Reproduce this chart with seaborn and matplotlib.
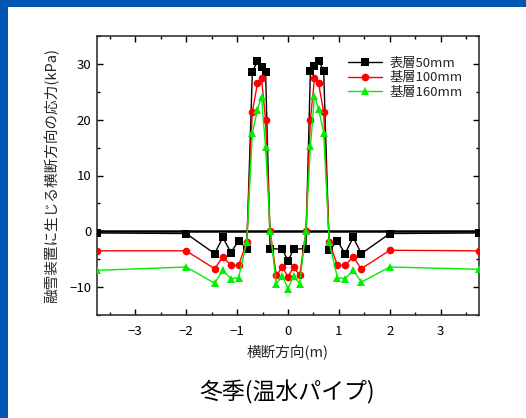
import numpy as np
import pandas as pd
import matplotlib
matplotlib.use("Agg")
import matplotlib.pyplot as plt
import seaborn as sns
from matplotlib.patches import Rectangle
from matplotlib.ticker import MultipleLocator

# ---- data ----
series_names = ["表層50mm", "基層100mm", "基層160mm"]

x_surface = [-3.75, -2.0, -1.44, -1.28, -1.12, -0.97, -0.81, -0.70, -0.60, -0.52, -0.44,
             -0.35, -0.11, 0.0, 0.11, 0.35,
             0.44, 0.52, 0.60, 0.70, 0.81, 0.97, 1.12, 1.28, 1.44, 2.0, 3.75]
y_surface = [-0.3, -0.4, -4.0, -1.1, -3.8, -1.7, -3.1, 28.6, 30.5, 29.5, 28.5,
             -3.1, -3.2, -5.3, -3.2, -3.1,
             28.8, 29.6, 30.6, 28.8, -3.4, -1.7, -4.0, -1.1, -4.0, -0.4, -0.3]

x_base = [-3.75, -2.0, -1.44, -1.28, -1.12, -0.97, -0.81, -0.70, -0.60, -0.52, -0.44,
          -0.35, -0.23, -0.11, 0.0, 0.11, 0.23, 0.35,
          0.44, 0.52, 0.60, 0.70, 0.81, 0.97, 1.12, 1.28, 1.44, 2.0, 3.75]
y_base100 = [-3.5, -3.5, -6.7, -4.6, -6.1, -6.1, -2.0, 21.4, 26.5, 27.4, 20.0,
             0.0, -7.9, -6.4, -8.2, -6.4, -7.9, 0.0,
             20.0, 27.4, 26.5, 21.4, -2.0, -6.1, -6.1, -4.6, -6.7, -3.4, -3.5]
y_base160 = [-7.0, -6.4, -9.3, -7.0, -8.5, -8.3, -2.0, 17.6, 21.8, 24.1, 15.1,
             0.0, -9.4, -8.0, -10.3, -8.0, -9.4, 0.0,
             15.2, 24.2, 22.0, 17.7, -2.0, -8.3, -8.5, -7.0, -9.1, -6.4, -6.8]

x_ticks = [-3, -2, -1, 0, 1, 2, 3]
y_ticks = [-10, 0, 10, 20, 30]

df = pd.concat([
    pd.DataFrame({"x": x_surface, "y": y_surface, "series": series_names[0]}),
    pd.DataFrame({"x": x_base, "y": y_base100, "series": series_names[1]}),
    pd.DataFrame({"x": x_base, "y": y_base160, "series": series_names[2]}),
], ignore_index=True)

sns.set_style("ticks")
plt.rcParams['font.family'] = ['Noto Sans CJK JP', 'DejaVu Sans']
plt.rcParams['axes.unicode_minus'] = True

fig = plt.figure(figsize=(5.26, 4.18), dpi=100, facecolor='#0057B3')
fig.patches.append(Rectangle((8 / 526, 0), 1, 1 - 7 / 418, transform=fig.transFigure,
                             facecolor='white', edgecolor='none', zorder=-5))
ax = fig.add_axes([97 / 526, 1 - 315 / 418, 382 / 526, 279 / 418])
ax.set_zorder(2)
ax.set_facecolor('white')

ax.axhline(0, color='black', lw=1.8, zorder=1)

palette = {series_names[0]: '#000000', series_names[1]: '#FF0000', series_names[2]: '#00EE00'}
markers = {series_names[0]: 's', series_names[1]: 'o', series_names[2]: '^'}
sns.lineplot(data=df, x='x', y='y', hue='series', style='series', palette=palette,
             markers=markers, dashes=False, sort=False, estimator=None, ax=ax,
             linewidth=1.0, markersize=5.5, markeredgewidth=0, zorder=3)

ax.set_xlim(-3.75, 3.75)
ax.set_ylim(-15, 35)
ax.set_xticks(x_ticks)
ax.set_yticks(y_ticks)
ax.xaxis.set_minor_locator(MultipleLocator(0.5))
ax.yaxis.set_minor_locator(MultipleLocator(5))
ax.tick_params(which='both', direction='in', top=True, right=True, labelsize=9.5,
               colors='black', width=1.0)
ax.tick_params(axis='x', which='major', length=4, pad=7)
ax.tick_params(axis='y', which='major', length=4, pad=4)
ax.tick_params(which='minor', length=2)
for s in ax.spines.values():
    s.set_linewidth(1.2)
    s.set_color('#333333')

ax.set_xlabel("横断方向(m)", fontsize=10.5, labelpad=5)
ax.set_ylabel("融雪装置に生じる横断方向の応力(kPa)", fontsize=10.5, labelpad=7)

leg = ax.legend(loc='upper right', bbox_to_anchor=(0.972, 0.945), frameon=False,
                fontsize=9.5, handlelength=2.6, labelspacing=0.12, borderaxespad=0,
                handletextpad=0.6)

fig.text(0.546, 1 - 392 / 418, "冬季(温水パイプ)", ha='center', va='center',
         fontsize=16.5, color='black')

fig.savefig("out.png", dpi=100, facecolor=fig.get_facecolor())
